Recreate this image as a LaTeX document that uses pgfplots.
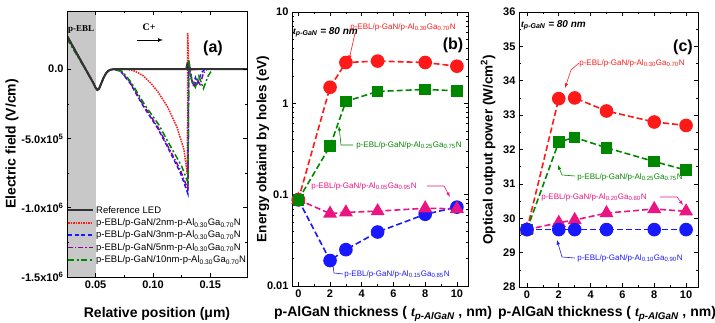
\documentclass[border=0pt]{standalone}
\usepackage{pgfplots}
\pgfplotsset{compat=1.18}
\usepackage{fontspec}
\setmainfont{Liberation Sans}
\newfontfamily\seriffont{Liberation Serif}
\definecolor{cred}{RGB}{255,25,25}
\definecolor{cgreen}{RGB}{0,135,0}
\definecolor{cpink}{RGB}{235,20,130}
\definecolor{cblue}{RGB}{25,25,255}
\definecolor{cpurple}{RGB}{140,0,160}
\definecolor{shade}{RGB}{200,200,200}
\pgfplotsset{
  every axis/.append style={scale only axis, anchor=south west, tick align=inside,
    /pgf/number format/assume math mode=true,
    tick label style={font=\fontsize{11}{12}\selectfont\bfseries},
    axis line style={line width=0.8pt}, major tick length=4pt, minor tick length=2pt,
    every tick/.style={line width=0.6pt, black}},
  ser/.style={dash pattern=on 6pt off 3pt, line width=1.6pt},
}
\newcommand{\lab}[2]{p-EBL/p-GaN/p-Al\textsubscript{#1}Ga\textsubscript{#2}N}
\begin{document}
\begin{tikzpicture}
\useasboundingbox (0pt,0pt) rectangle (715pt,323pt);
\clip (0pt,0pt) rectangle (715pt,323pt);
% ---------------- panel (a)
\begin{axis}[at={(67pt,46pt)}, width=180pt, height=266pt, axis on top,
  xmin=0.025, xmax=0.182, ymin=-1.5e6, ymax=4.2e5,
  scaled y ticks=false, scaled x ticks=false,
  xtick={0.05,0.10,0.15}, xticklabels={0.05,0.10,0.15}, minor x tick num=1,
  ytick={-1.5e6,-1e6,-5e5,0}, yticklabels={-1.5x10\textsuperscript{6},-1.0x10\textsuperscript{6},-5.0x10\textsuperscript{5},0.0},
  minor y tick num=1,
  legend style={at={(0,0.04)}, anchor=south west, draw=none, fill=none,
    font=\fontsize{9.5}{11}\selectfont, row sep=0pt, inner sep=0pt},
  legend cell align=left,
  legend image code/.code={\draw[#1] (0pt,0pt) -- (25pt,0pt);},
]
\addplot[fill=shade, draw=none, forget plot] coordinates {(0.025,-1.5e6) (0.025,4.2e5) (0.05,4.2e5) (0.05,-1.5e6)} -- cycle;
\addplot[cred, densely dotted, line width=1.5pt, forget plot] coordinates {
(0.025,2.4e5)(0.048,-1.0e5)(0.050,-1.35e5)(0.0515,-1.5e5)(0.053,-1.4e5)(0.055,-1.0e5)(0.057,-0.6e5)(0.059,-0.3e5)(0.061,-0.12e5)(0.063,-0.04e5)(0.066,0)
(0.078,-0.02e5)(0.083,-0.1e5)(0.088,-0.3e5)(0.0918,-0.5e5)(0.098,-1.0e5)(0.104,-1.6e5)(0.1126,-2.7e5)(0.121,-4.2e5)(0.127,-5.8e5)(0.1300,-7.6e5)
(0.1303,2.6e5)(0.1312,0.2e5)(0.134,-0.05e5)(0.14,0)(0.182,0)};
\addplot[cblue, dash pattern=on 4pt off 2.5pt, line width=1.5pt, forget plot] coordinates {
(0.025,2.4e5)(0.048,-1.0e5)(0.050,-1.35e5)(0.0515,-1.5e5)(0.053,-1.4e5)(0.055,-1.0e5)(0.057,-0.6e5)(0.059,-0.3e5)(0.061,-0.12e5)(0.063,-0.04e5)(0.0657,0)
(0.0718,-0.15e5)(0.080,-1.0e5)(0.0918,-2.7e5)(0.104,-4.25e5)(0.1126,-5.6e5)(0.124,-7.5e5)(0.1305,-9.0e5)
(0.1312,0.6e5)(0.133,-0.5e5)(0.135,-1.2e5)(0.137,-0.6e5)(0.139,-1.0e5)(0.142,-0.3e5)(0.145,0)(0.182,0)};
\addplot[cpurple, dash pattern=on 5pt off 2pt on 1.2pt off 2pt, line width=1.5pt, forget plot] coordinates {
(0.025,2.4e5)(0.048,-1.0e5)(0.050,-1.35e5)(0.0515,-1.5e5)(0.053,-1.4e5)(0.055,-1.0e5)(0.057,-0.6e5)(0.059,-0.3e5)(0.061,-0.12e5)(0.063,-0.04e5)(0.0657,0)
(0.072,-0.15e5)(0.080,-0.95e5)(0.092,-2.65e5)(0.104,-4.15e5)(0.1126,-5.5e5)(0.124,-7.3e5)(0.1305,-8.7e5)
(0.1312,0.5e5)(0.133,-0.6e5)(0.136,-1.3e5)(0.138,-0.7e5)(0.141,-1.1e5)(0.144,-0.3e5)(0.147,0)(0.182,0)};
\addplot[cgreen, dash pattern=on 6pt off 2.5pt on 2pt off 2.5pt, line width=1.5pt, forget plot] coordinates {
(0.025,2.2e5)(0.048,-1.0e5)(0.050,-1.35e5)(0.0515,-1.5e5)(0.053,-1.4e5)(0.055,-1.0e5)(0.057,-0.6e5)(0.059,-0.3e5)(0.061,-0.12e5)(0.063,-0.04e5)(0.066,0)
(0.073,-0.15e5)(0.081,-0.95e5)(0.093,-2.6e5)(0.105,-4.0e5)(0.1135,-5.3e5)(0.125,-7.0e5)(0.1305,-8.2e5)
(0.1312,0.7e5)(0.134,-0.8e5)(0.137,-1.3e5)(0.140,-0.5e5)(0.144,-1.4e5)(0.148,-0.5e5)(0.152,0)(0.182,0)};
\addplot[black!80, line width=2pt, forget plot] coordinates {
(0.025,2.4e5)(0.048,-1.0e5)(0.050,-1.35e5)(0.0515,-1.5e5)(0.053,-1.4e5)(0.055,-1.0e5)(0.057,-0.6e5)(0.059,-0.3e5)(0.061,-0.12e5)(0.063,-0.04e5)(0.066,0)
(0.129,0)(0.1298,0.3e5)(0.1306,0)(0.182,0)};
\addlegendimage{black!80, line width=2pt}\addlegendentry{Reference LED}
\addlegendimage{cred, densely dotted, line width=1.5pt}\addlegendentry{p-EBL/p-GaN/2nm-p-Al\textsubscript{0.30}Ga\textsubscript{0.70}N}
\addlegendimage{cblue, dash pattern=on 4pt off 2.5pt, line width=1.5pt}\addlegendentry{p-EBL/p-GaN/3nm-p-Al\textsubscript{0.30}Ga\textsubscript{0.70}N}
\addlegendimage{cpurple, dash pattern=on 5pt off 2pt on 1.2pt off 2pt, line width=1.5pt}\addlegendentry{p-EBL/p-GaN/5nm-p-Al\textsubscript{0.30}Ga\textsubscript{0.70}N}
\addlegendimage{cgreen, dash pattern=on 6pt off 2.5pt on 2pt off 2.5pt, line width=1.5pt}\addlegendentry{p-EBL/p-GaN/10nm-p-Al\textsubscript{0.30}Ga\textsubscript{0.70}N}
\end{axis}
% ---------------- panel (b)
\begin{axis}[at={(292pt,37pt)}, width=176pt, height=274pt, ymode=log,
  xmin=-0.4, xmax=10.7, ymin=0.01, ymax=10,
  xtick={0,2,...,10}, minor x tick num=1,
  ytick={0.01,0.1,1,10}, yticklabels={0.01,0.1,1,10}]
\addplot[cblue, ser, mark=*, mark size=6pt, mark options={solid}] coordinates {(0,0.088)(2,0.019)(3,0.025)(5,0.039)(8,0.061)(10,0.073)};
\addplot[cpink, ser, mark=triangle*, mark size=6.5pt, mark options={solid}] coordinates {(0,0.088)(2,0.062)(3,0.064)(5,0.066)(8,0.071)(10,0.070)};
\addplot[cred, ser, mark=*, mark size=6pt, mark options={solid}] coordinates {(0,0.088)(2,1.5)(3,2.8)(5,2.9)(8,2.8)(10,2.55)};
\addplot[cgreen, ser, mark=square*, mark size=5pt, mark options={solid}] coordinates {(0,0.088)(2,0.34)(3,1.05)(5,1.35)(8,1.42)(10,1.37)};
\end{axis}
% ---------------- panel (c)
\begin{axis}[at={(519pt,36pt)}, width=179pt, height=275pt,
  xmin=-0.5, xmax=10.75, ymin=28, ymax=36,
  xtick={0,2,...,10}, minor x tick num=1,
  ytick={28,...,36}, minor y tick num=1]
\addplot[cpink, ser, mark=triangle*, mark size=6.5pt, mark options={solid}] coordinates {(0,29.67)(2,29.87)(3,29.95)(5,30.15)(8,30.27)(10,30.2)};
\addplot[cred, ser, mark=*, mark size=6pt, mark options={solid}] coordinates {(0,29.67)(2,33.48)(3,33.5)(5,33.12)(8,32.8)(10,32.7)};
\addplot[cgreen, ser, mark=square*, mark size=5pt, mark options={solid}] coordinates {(0,29.67)(2,32.22)(3,32.35)(5,32.05)(8,31.65)(10,31.4)};
\addplot[cblue, ser, mark=*, mark size=6pt, mark options={solid}] coordinates {(0,29.67)(2,29.67)(3,29.67)(5,29.67)(8,29.67)(10,29.67)};
\end{axis}
\begin{scope}[x=1pt, y=1pt]
% ---------------- labels panel (a)
\node[rotate=90, font=\fontsize{14}{15}\selectfont\bfseries] at (12,179) {Electric field (V/cm)};
\node[font=\fontsize{14}{15}\selectfont\bfseries] at (157,9) {Relative position (μm)};
\node[anchor=west, font=\seriffont\bfseries\fontsize{9}{10}\selectfont, inner sep=0pt] at (68,293) {p-EBL};
\node[font=\seriffont\bfseries\fontsize{10}{10}\selectfont, inner sep=0pt] at (149,296) {C+};
\draw[-latex, line width=0.7pt] (137,283) -- (163,283);
\node[font=\fontsize{16}{16}\selectfont\bfseries] at (213,275) {(a)};
% ---------------- labels panel (b)
\node[rotate=90, font=\fontsize{13.5}{15}\selectfont\bfseries] at (263,174) {Energy obtaind by holes (eV)};
\node[font=\fontsize{14}{15}\selectfont\bfseries] at (383,9) {p-AlGaN thickness ( {\seriffont\itshape t}\textsubscript{\itshape p-AlGaN} , nm)};
\node[anchor=west, font=\fontsize{10}{11}\selectfont\bfseries\itshape, inner sep=0pt] at (293,291) {{\seriffont t}\textsubscript{p-GaN} = 80 nm};
\node[font=\fontsize{16}{16}\selectfont\bfseries] at (453,278) {(b)};
\begin{scope}[font=\fontsize{8}{9}\selectfont, inner sep=0pt, line width=0.6pt]
\node[anchor=west, text=cred] at (350,296) {\lab{0.30}{0.70}};
\draw[cred, -latex] (355,290) -- (349,263);
\node[anchor=west, text=cgreen] at (356,178) {\lab{0.25}{0.75}};
\draw[cgreen, -latex] (353,178) -- (341,178) -- (339,197);
\node[anchor=west, text=cpink] at (311,137) {\lab{0.05}{0.95}};
\draw[cpink, -latex] (427,137) -- (444,137) -- (450,126);
\node[anchor=west, text=cblue] at (344,49) {\lab{0.15}{0.85}};
\draw[cblue, -latex] (343,49) -- (334,50) -- (332,65);
% ---------------- labels panel (c)
\node[anchor=west, text=cred] at (579,260) {\lab{0.30}{0.70}};
\draw[cred, -latex] (579,260) -- (571,253) -- (565,235);
\node[anchor=west, text=cgreen] at (577,146) {\lab{0.25}{0.75}};
\draw[cgreen, -latex] (575,147) -- (562,148) -- (558,158);
\node[anchor=west, text=cpink] at (541,126) {\lab{0.20}{0.80}};
\draw[cpink, -latex] (660,126) -- (677,126) -- (683,118);
\node[anchor=west, text=cblue] at (577,65) {\lab{0.10}{0.90}};
\draw[cblue, -latex] (575,65) -- (562,66) -- (557,83);
\end{scope}
\node[rotate=90, font=\fontsize{13.5}{15}\selectfont\bfseries] at (488,173) {Optical output power (W/cm\textsuperscript{2})};
\node[font=\fontsize{14}{15}\selectfont\bfseries] at (607,9) {p-AlGaN thickness ( {\seriffont\itshape t}\textsubscript{\itshape p-AlGaN} , nm)};
\node[anchor=west, font=\fontsize{10}{11}\selectfont\bfseries\itshape, inner sep=0pt] at (521,298) {{\seriffont t}\textsubscript{p-GaN} = 80 nm};
\node[font=\fontsize{16}{16}\selectfont\bfseries] at (683,276) {(c)};
\end{scope}
\end{tikzpicture}
\end{document}
